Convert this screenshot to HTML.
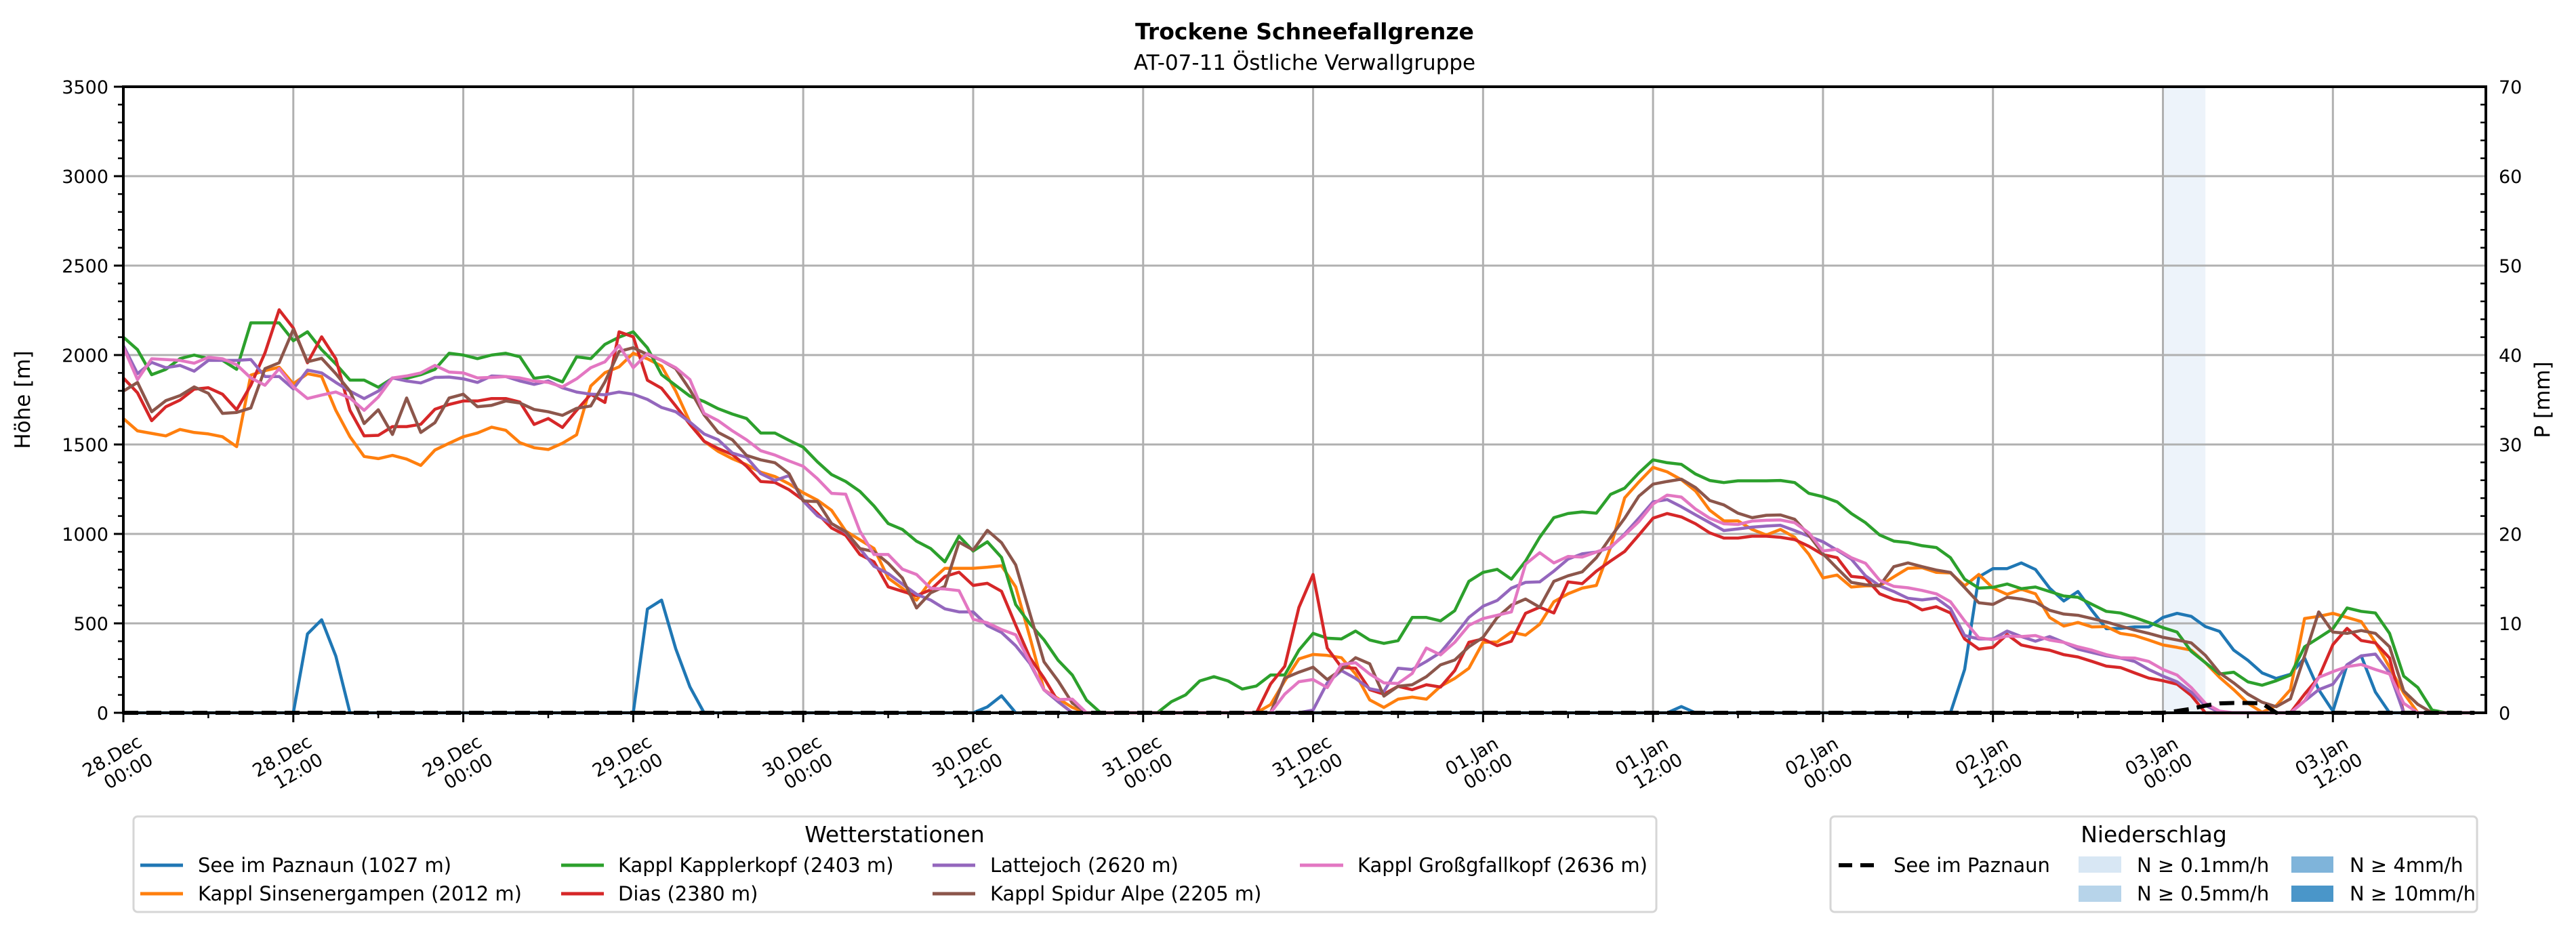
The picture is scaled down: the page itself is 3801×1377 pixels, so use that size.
<!DOCTYPE html>
<html><head><meta charset="utf-8">
<style>
html,body{margin:0;padding:0;background:#fff;}
svg{display:block;font-family:"DejaVu Sans","Liberation Sans",sans-serif;}
</style></head>
<body>
<svg id="chart" width="3801" height="1377" viewBox="0 0 3801 1377" xmlns="http://www.w3.org/2000/svg">
<rect x="0" y="0" width="3801" height="1377" fill="#fff"/>
<text x="1925" y="58" font-size="33" font-weight="bold" text-anchor="middle">Trockene Schneefallgrenze</text>
<text x="1925" y="103" font-size="31" text-anchor="middle">AT-07-11 Östliche Verwallgruppe</text>
<g id="shade"></g>
<g id="grid"></g>
<g id="series"></g>
<g id="axes"></g>
<text transform="translate(44,590) rotate(-90)" font-size="31" text-anchor="middle">Höhe [m]</text>
<text transform="translate(3762,590) rotate(-90)" font-size="31" text-anchor="middle">P [mm]</text>

<g>
<rect x="197" y="1205" width="2247" height="141" rx="6" fill="#fff" stroke="#d6d6d6" stroke-width="3"/>
<text x="1320" y="1243" font-size="33" text-anchor="middle">Wetterstationen</text>
<g font-size="29">
<line x1="207" y1="1277" x2="270" y2="1277" stroke="#1f77b4" stroke-width="5"/><text x="292" y="1287">See im Paznaun (1027 m)</text>
<line x1="207" y1="1319" x2="270" y2="1319" stroke="#ff7f0e" stroke-width="5"/><text x="292" y="1329">Kappl Sinsenergampen (2012 m)</text>
<line x1="828" y1="1277" x2="891" y2="1277" stroke="#2ca02c" stroke-width="5"/><text x="912" y="1287">Kappl Kapplerkopf (2403 m)</text>
<line x1="828" y1="1319" x2="891" y2="1319" stroke="#d62728" stroke-width="5"/><text x="912" y="1329">Dias (2380 m)</text>
<line x1="1376" y1="1277" x2="1439" y2="1277" stroke="#9467bd" stroke-width="5"/><text x="1461" y="1287">Lattejoch (2620 m)</text>
<line x1="1376" y1="1319" x2="1439" y2="1319" stroke="#8c564b" stroke-width="5"/><text x="1461" y="1329">Kappl Spidur Alpe (2205 m)</text>
<line x1="1918" y1="1277" x2="1982" y2="1277" stroke="#e377c2" stroke-width="5"/><text x="2003" y="1287">Kappl Großgfallkopf (2636 m)</text>
</g></g>

<g>
<rect x="2701" y="1205" width="954" height="141" rx="6" fill="#fff" stroke="#d6d6d6" stroke-width="3"/>
<text x="3178" y="1243" font-size="33" text-anchor="middle">Niederschlag</text>
<g font-size="29">
<line x1="2713" y1="1277" x2="2768" y2="1277" stroke="#000" stroke-width="6" stroke-dasharray="20,12"/><text x="2794" y="1287">See im Paznaun</text>
<rect x="3067" y="1264" width="63" height="24" fill="#d8e7f4"/><text x="3153" y="1287">N ≥ 0.1mm/h</text>
<rect x="3067" y="1307" width="63" height="24" fill="#b7d4ea"/><text x="3153" y="1329">N ≥ 0.5mm/h</text>
<rect x="3381" y="1264" width="62" height="24" fill="#7fb4da"/><text x="3467" y="1287">N ≥ 4mm/h</text>
<rect x="3381" y="1307" width="62" height="24" fill="#4a96c9"/><text x="3467" y="1329">N ≥ 10mm/h</text>
</g></g>
</svg>
<script>
const xTickHours = [0,12,24,36,48,60,72,84,96,108,120,132,144,156];
const xTickDates = ["28.Dec","28.Dec","29.Dec","29.Dec","30.Dec","30.Dec","31.Dec","31.Dec","01.Jan","01.Jan","02.Jan","02.Jan","03.Jan","03.Jan"];
const xTickTimes = ["00:00","12:00","00:00","12:00","00:00","12:00","00:00","12:00","00:00","12:00","00:00","12:00","00:00","12:00"];
const yTicks = [0,500,1000,1500,2000,2500,3000,3500];
const y2Ticks = [0,10,20,30,40,50,60,70];
const seriesNames = ["see","sinsenergampen","kapplerkopf","dias","lattejoch","spidur","grossgfallkopf"];
const seriesColors = ["#1f77b4","#ff7f0e","#2ca02c","#d62728","#9467bd","#8c564b","#e377c2"];
const seeValues = [
0,0,0,0,0,0,0,0,0,0,0,0,
0,441,520,317,0,0,0,0,0,0,0,0,
0,0,0,0,0,0,0,0,0,0,0,0,
0,580,630,358,145,0,0,0,0,0,0,0,
0,0,0,0,0,0,0,0,0,0,0,0,
0,33,95,0,0,0,0,0,0,0,0,0,
0,0,0,0,0,0,0,0,0,0,0,0,
0,0,0,0,0,0,0,0,0,0,0,0,
0,0,0,0,0,0,0,0,0,0,0,0,
0,0,35,0,0,0,0,0,0,0,0,0,
0,0,0,0,0,0,0,0,0,0,242,760,
806,806,838,801,697,625,678,571,470,472,480,480,
533,556,539,482,455,350,293,223,192,215,306,129,
9,268,318,116,0,0,0,0,0,0,0];
const sinsenergampenValues = [
1645,1576,1562,1548,1584,1567,1559,1543,1488,1888,1913,1932,
1839,1896,1880,1691,1543,1433,1421,1439,1418,1383,1469,1507,
1543,1564,1597,1579,1510,1482,1472,1507,1554,1827,1901,1934,
2010,1979,1938,1798,1625,1518,1461,1420,1387,1345,1321,1280,
1230,1189,1132,1016,967,918,753,696,630,737,808,808,
808,814,822,704,424,128,79,30,0,0,0,0,
0,0,0,0,0,0,0,0,0,46,178,301,
326,321,308,217,72,30,76,88,76,148,192,249,
394,396,451,434,495,621,665,697,712,924,1202,1290,
1372,1347,1303,1240,1133,1073,1073,1025,994,1025,981,886,
754,770,703,710,710,760,808,811,785,782,710,773,
697,662,691,665,533,485,505,480,482,444,432,407,
379,366,350,280,198,129,53,3,40,129,527,539,
556,533,510,394,255,110,0,0,0,0,0];
const kapplerkopfValues = [
2100,2030,1890,1920,1980,2000,1980,1970,1920,2180,2180,2180,
2080,2130,2030,1950,1860,1860,1820,1870,1870,1890,1920,2010,
2000,1980,2000,2010,1990,1870,1880,1850,1990,1980,2060,2100,
2130,2040,1890,1830,1770,1740,1700,1670,1645,1564,1564,1523,
1485,1403,1332,1293,1238,1156,1058,1025,959,918,844,988,
904,956,868,605,498,408,293,211,71,0,0,0,
0,0,62,100,178,202,178,133,150,211,211,350,
444,417,413,457,407,388,403,533,533,514,571,735,
785,802,747,848,981,1091,1114,1123,1116,1221,1256,1341,
1414,1398,1389,1335,1299,1287,1297,1297,1297,1299,1287,1227,
1208,1179,1114,1063,994,960,952,934,924,867,747,697,
701,720,694,703,678,653,646,606,567,558,533,505,
476,451,343,280,217,227,173,154,179,211,369,419,
470,586,567,558,444,205,141,15,0,0,0];
const diasValues = [
1872,1789,1633,1711,1748,1809,1817,1781,1694,1831,2012,2253,
2151,1957,2102,1979,1691,1548,1551,1600,1600,1613,1697,1724,
1743,1743,1757,1757,1737,1612,1645,1595,1691,1781,1735,2130,
2102,1859,1814,1715,1612,1518,1477,1444,1378,1293,1288,1247,
1189,1115,1033,992,885,844,704,679,655,688,762,786,
712,724,679,490,309,194,62,0,0,0,0,0,
0,0,0,0,0,0,0,0,0,161,260,589,
773,362,255,249,129,104,148,129,157,144,236,394,
413,375,400,556,590,558,732,722,792,848,902,994,
1088,1114,1095,1057,1006,977,977,987,987,981,968,931,
884,867,763,754,665,634,619,575,593,558,413,356,
366,438,379,362,350,325,312,287,261,253,223,194,
179,160,97,0,0,0,0,0,0,0,104,198,
381,472,404,391,306,0,0,0,0,0,0];
const lattejochValues = [
2053,1896,1959,1929,1942,1910,1970,1970,1970,1975,1880,1880,
1811,1916,1900,1847,1798,1757,1798,1872,1855,1844,1875,1877,
1867,1847,1883,1880,1855,1836,1855,1817,1793,1781,1778,1793,
1781,1752,1707,1683,1625,1559,1526,1452,1428,1337,1299,1326,
1184,1102,1058,1008,918,819,778,720,663,630,581,564,
564,487,449,375,276,128,62,0,0,0,0,0,
0,0,0,0,0,0,0,0,0,0,0,0,
15,167,236,192,135,119,249,242,287,337,432,533,
596,628,697,729,732,792,859,889,899,924,1000,1088,
1179,1192,1152,1107,1063,1019,1028,1038,1044,1048,1019,987,
956,909,859,766,710,678,640,631,641,583,432,413,
413,457,426,400,426,394,356,337,318,306,287,242,
205,173,116,40,3,0,0,0,0,0,66,129,
160,268,318,328,223,0,0,0,0,0,0];
const spidurValues = [
1798,1847,1683,1745,1773,1822,1786,1674,1679,1704,1924,1957,
2143,1962,1982,1896,1798,1617,1694,1556,1760,1567,1622,1760,
1781,1711,1719,1743,1732,1696,1683,1663,1702,1715,1850,2020,
2041,2003,1970,1924,1806,1666,1567,1526,1439,1414,1398,1337,
1184,1181,1058,1013,918,901,836,753,586,671,707,954,
910,1020,951,827,556,285,178,54,0,0,0,0,
0,0,0,0,0,0,0,0,0,0,194,227,
255,186,242,308,274,93,148,157,202,268,295,369,
422,533,602,636,590,735,766,788,867,981,1088,1211,
1278,1293,1306,1259,1187,1162,1116,1091,1104,1106,1082,994,
889,808,729,716,710,817,838,817,798,785,700,615,
606,646,636,619,573,552,545,527,508,485,463,444,
422,407,391,321,223,167,104,59,34,78,318,564,
451,444,460,444,369,122,47,0,0,0,0];
const grossgfallkopfValues = [
2044,1863,1979,1975,1970,1954,1987,1979,1946,1872,1831,1924,
1822,1757,1776,1793,1760,1691,1765,1872,1883,1900,1942,1905,
1900,1872,1875,1880,1872,1855,1847,1822,1867,1929,1962,2053,
1929,2008,1970,1929,1863,1674,1633,1576,1526,1465,1441,1408,
1378,1309,1227,1222,1016,885,885,803,773,696,692,683,
523,503,465,436,285,128,74,76,0,0,0,0,
0,0,0,0,0,0,0,0,0,0,104,174,
186,141,270,280,217,167,164,220,362,324,394,489,
527,545,564,831,895,838,874,871,899,927,994,1069,
1167,1217,1206,1139,1088,1057,1053,1072,1076,1078,1063,1006,
905,914,867,836,741,707,699,684,665,621,514,419,
409,429,426,432,407,394,369,350,325,308,306,287,
242,211,141,53,9,0,0,0,0,0,66,198,
230,258,270,242,217,53,0,0,0,0,0];
const precipHours = [145,146,147,148,149,150,151];
const precipValues = [0.2,0.45,0.8,1.05,1.1,1.1,1.05];
const shadeStartHours = [144];
const shadeEndHours = [147];
const shadeColors = ["#edf3fa"];

const NS="http://www.w3.org/2000/svg";
const L=182,R=3668,T=128,B=1052,HMAX=166.8,VMAX=3500,PMAX=70,NH=167;
function X(h){return L+(R-L)*h/HMAX;}
function Y(v){return B-(B-T)*v/VMAX;}
function YP(p){return B-(B-T)*p/PMAX;}
function mk(tag,attrs,parent){const e=document.createElementNS(NS,tag);for(const k in attrs)e.setAttribute(k,attrs[k]);parent.appendChild(e);return e;}
const gS=document.getElementById('shade'),gG=document.getElementById('grid'),gL=document.getElementById('series'),gA=document.getElementById('axes');

shadeStartHours.forEach((s,i)=>{
  const r=mk('rect',{x:X(s),y:T,width:X(shadeEndHours[i])-X(s),height:B-T,fill:shadeColors[i]},gS);
  
  
});
xTickHours.forEach(h=>{mk('line',{x1:X(h),y1:T,x2:X(h),y2:B,stroke:'#b0b0b0','stroke-width':3},gG);});
yTicks.forEach(v=>{mk('line',{x1:L,y1:Y(v),x2:R,y2:Y(v),stroke:'#b0b0b0','stroke-width':3},gG);});

const allSeries=[seeValues,sinsenergampenValues,kapplerkopfValues,diasValues,lattejochValues,spidurValues,grossgfallkopfValues];
allSeries.forEach((vals,i)=>{
  const pts=vals.map((v,h)=>X(h).toFixed(1)+','+Y(v).toFixed(1)).join(' ');
  const p=mk('polyline',{points:pts,fill:'none',stroke:seriesColors[i],'stroke-width':4.5,'stroke-linejoin':'round'},gL);
  
  
});
const pFull=[];for(let h=0;h<NH;h++){const k=precipHours.indexOf(h);pFull.push(k>=0?precipValues[k]:0);}
const pp=mk('polyline',{points:pFull.map((p,h)=>X(h).toFixed(1)+','+YP(p).toFixed(1)).join(' '),fill:'none',stroke:'#000','stroke-width':6,'stroke-dasharray':'22,12'},gL);



mk('rect',{x:L,y:T,width:R-L,height:B-T,fill:'none',stroke:'#000','stroke-width':4},gA);
yTicks.forEach(v=>{
  mk('line',{x1:L-14,y1:Y(v),x2:L,y2:Y(v),stroke:'#000','stroke-width':3},gA);
  const t=mk('text',{x:L-22,y:Y(v)+10,'font-size':27,'text-anchor':'end'},gA);t.textContent=v;
  
  
});
for(let v=100;v<VMAX;v+=100){if(v%500)mk('line',{x1:L-8,y1:Y(v),x2:L,y2:Y(v),stroke:'#000','stroke-width':2.5},gA);}
y2Ticks.forEach(p=>{
  const t=mk('text',{x:R+19,y:YP(p)+10,'font-size':27},gA);t.textContent=p;
  
  
});
for(let p=2;p<PMAX;p+=2){if(p%10)mk('line',{x1:R-8,y1:YP(p),x2:R,y2:YP(p),stroke:'#000','stroke-width':2.5},gA);}
xTickHours.forEach((h,i)=>{
  const x=X(h);
  mk('line',{x1:x,y1:B,x2:x,y2:B+14,stroke:'#000','stroke-width':3},gA);
  const t1=mk('text',{transform:`translate(${x-12},${B+72}) rotate(-30)`,'font-size':27,'text-anchor':'middle'},gA);t1.textContent=xTickDates[i];
  
  
  const t2=mk('text',{transform:`translate(${x+12},${B+94}) rotate(-30)`,'font-size':27,'text-anchor':'middle'},gA);t2.textContent=xTickTimes[i];
  
  
});
for(let h=6;h<HMAX;h+=12){mk('line',{x1:X(h),y1:B,x2:X(h),y2:B+8,stroke:'#000','stroke-width':2.5},gA);}
</script>
</body></html>
